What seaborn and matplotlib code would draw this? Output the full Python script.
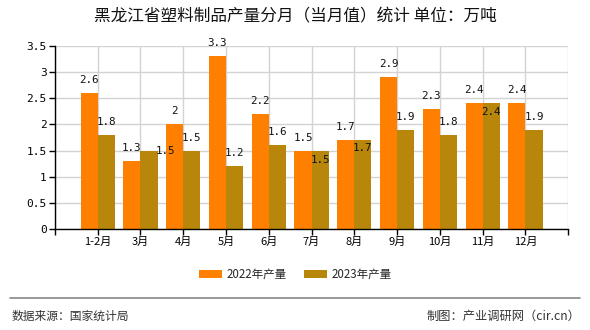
import matplotlib
matplotlib.use("Agg")
import matplotlib.pyplot as plt
import seaborn as sns
import pandas as pd

months = ["1-2月", "3月", "4月", "5月", "6月", "7月", "8月", "9月", "10月", "11月", "12月"]
series_names = ["2022年产量", "2023年产量"]
values_2022 = [2.6, 1.3, 2, 3.3, 2.2, 1.5, 1.7, 2.9, 2.3, 2.4, 2.4]
values_2023 = [1.8, 1.5, 1.5, 1.2, 1.6, 1.5, 1.7, 1.9, 1.8, 2.4, 1.9]
y_ticks = [0, 0.5, 1, 1.5, 2, 2.5, 3, 3.5]
colors = ["#FF8000", "#B8860B"]

# label nudges (pixels) for overlapping labels: (series index, month index) -> (dx, dy)
label_nudges = {(1, 1): (16, -13), (1, 5): (0, -22), (1, 6): (0, -21), (1, 9): (0, -22)}

df = pd.DataFrame({
    "month": months * 2,
    "series": [series_names[0]] * len(months) + [series_names[1]] * len(months),
    "value": values_2022 + values_2023,
})

sns.set_theme(style="white")
plt.rcParams["font.family"] = ["Noto Sans CJK SC", "DejaVu Sans"]

fig = plt.figure(figsize=(5.9, 3.3), dpi=100)
ax = fig.add_axes([0.093, 0.306, 0.870, 0.555])

sns.barplot(data=df, x="month", y="value", hue="series", order=months,
            hue_order=series_names, palette=colors, width=0.8,
            saturation=1, ax=ax, legend=True, errorbar=None, linewidth=0)

for si, cont in enumerate(ax.containers):
    for mi, bar in enumerate(cont.patches):
        v = bar.get_height()
        dx, dy = label_nudges.get((si, mi), (0, 0))
        ax.annotate(f"{v:g}", (bar.get_x() + bar.get_width() / 2, v),
                    xytext=(dx, 13 + dy), textcoords="offset pixels",
                    ha="center", va="center", fontsize=7.8,
                    family=["DejaVu Sans Mono"], color="#111111")

ax.set_xlim(-1, 11)
ax.set_ylim(0, 3.5)
ax.set_yticks(y_ticks)
ax.set_yticklabels([f"{v:g}" for v in y_ticks], family=["DejaVu Sans Mono"], fontsize=8)
ax.set_xticks(range(-1, 12))
ax.set_xticklabels([""] + months + [""], fontsize=8)
ax.set_xlabel("")
ax.set_ylabel("")
ax.grid(True, color="#d3d3d3", linewidth=1)
ax.set_axisbelow(True)
for s in ["top", "right"]:
    ax.spines[s].set_visible(False)
for s in ["left", "bottom"]:
    ax.spines[s].set_color("black")
    ax.spines[s].set_linewidth(1)
ax.tick_params(axis="both", direction="out", length=4, width=1, color="black",
               bottom=True, left=True, pad=2, labelcolor="black")

handles, labels = ax.get_legend_handles_labels()
ax.get_legend().remove()
fig.legend(handles, labels, loc="center", bbox_to_anchor=(0.5, 0.168), ncol=2,
           frameon=False, fontsize=8.3, handlelength=2.0, handleheight=0.8,
           columnspacing=1.5, handletextpad=0.4)

fig.suptitle("黑龙江省塑料制品产量分月（当月值）统计 单位：万吨", x=0.5, y=0.975,
             fontsize=12, color="#111111")

fig.add_artist(plt.Line2D([0.017, 0.983], [1 - 298 / 330] * 2, color="#888888",
                          linewidth=1.2, transform=fig.transFigure))
fig.text(0.019, 1 - 316 / 330, "数据来源：国家统计局", fontsize=8.5, color="#333333",
         va="center", ha="left")
fig.text(0.984, 1 - 316 / 330, "制图：产业调研网（cir.cn）", fontsize=8.8, color="#333333",
         va="center", ha="right")

fig.savefig("out.png", dpi=100)
